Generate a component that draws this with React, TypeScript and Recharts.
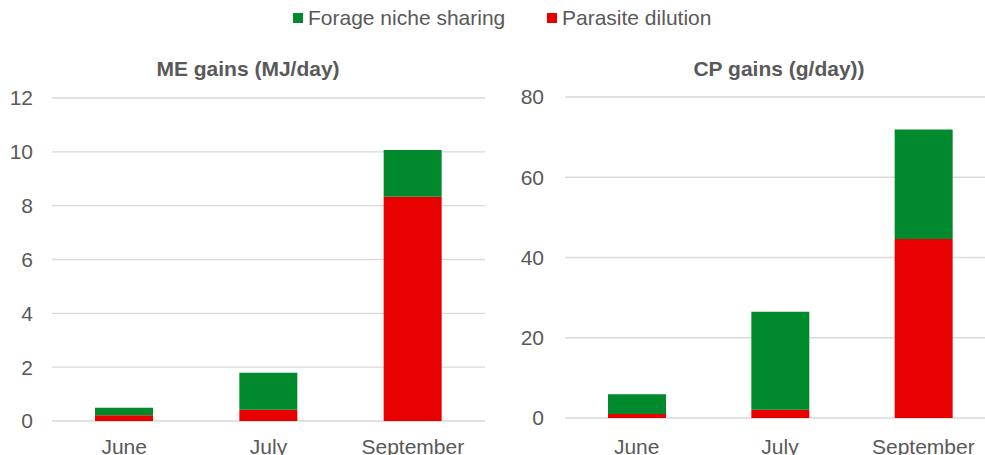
import { Bar, BarChart, CartesianGrid, XAxis, YAxis } from "recharts";

const months = ["June", "July", "September"];

// ME gains (MJ/day)
const meParasite = [0.21, 0.42, 8.33];
const meForage = [0.28, 1.37, 1.74];
const meTicks = [0, 2, 4, 6, 8, 10, 12];

// CP gains (g/day)
const cpParasite = [1.0, 2.05, 44.6];
const cpForage = [4.9, 24.4, 27.3];
const cpTicks = [0, 20, 40, 60, 80];

const GREEN = "#00892D";
const RED = "#E80000";
const TEXT = "#595959";
const FONT = '"Liberation Sans", Arial, sans-serif';

const meData = months.map((m, i) => ({ month: m, parasite: meParasite[i], forage: meForage[i] }));
const cpData = months.map((m, i) => ({ month: m, parasite: cpParasite[i], forage: cpForage[i] }));

function Panel({
  data,
  ticks,
  width,
  top,
  bottom,
  axisWidth,
  yGap,
  xGap,
  right,
}: {
  data: typeof meData;
  ticks: number[];
  width: number;
  top: number;
  bottom: number;
  axisWidth: number;
  yGap: number;
  xGap: number;
  right: number;
}) {
  const max = ticks[ticks.length - 1];
  return (
    <BarChart
      width={width}
      height={455}
      data={data}
      margin={{ top, bottom: 0, left: 0, right }}
      barSize={58}
    >
      <CartesianGrid vertical={false} stroke="#d9d9d9" strokeWidth={1.3} />
      <XAxis
        dataKey="month"
        height={bottom}
        axisLine={false}
        tickLine={false}
        tickSize={0}
        tickMargin={xGap}
        tick={{ fontSize: 21, fill: TEXT, fontFamily: FONT }}
        interval={0}
      />
      <YAxis
        width={axisWidth}
        domain={[0, max]}
        ticks={ticks}
        axisLine={false}
        tickLine={false}
        tickSize={0}
        tickMargin={yGap}
        tick={{ fontSize: 21, fill: TEXT, fontFamily: FONT }}
      />
      <Bar dataKey="parasite" stackId="a" fill={RED} isAnimationActive={false} />
      <Bar dataKey="forage" stackId="a" fill={GREEN} isAnimationActive={false} />
    </BarChart>
  );
}

const titleStyle: React.CSSProperties = {
  position: "absolute",
  top: 57,
  width: 300,
  textAlign: "center",
  fontFamily: FONT,
  fontWeight: "bold",
  fontSize: 21,
  color: TEXT,
  whiteSpace: "nowrap",
};

const legendItem: React.CSSProperties = {
  position: "absolute",
  top: 6,
  fontFamily: FONT,
  fontSize: 21,
  color: TEXT,
  whiteSpace: "nowrap",
  display: "flex",
  alignItems: "center",
};

export default function App() {
  return (
    <div
      style={{
        position: "absolute",
        left: 0,
        top: 0,
        width: 985,
        height: 455,
        overflow: "hidden",
        background: "#fff",
      }}
    >
      <div style={{ ...legendItem, left: 293 }}>
        <span style={{ width: 10, height: 10, background: GREEN, marginRight: 5 }} />
        Forage niche sharing
      </div>
      <div style={{ ...legendItem, left: 547 }}>
        <span style={{ width: 10, height: 10, background: RED, marginRight: 5 }} />
        Parasite dilution
      </div>

      <div style={{ ...titleStyle, left: 248 - 150 }}>ME gains (MJ/day)</div>
      <div style={{ ...titleStyle, left: 779 - 150 }}>CP gains (g/day))</div>

      <div style={{ position: "absolute", left: 0, top: 0 }}>
        <Panel
          data={meData}
          ticks={meTicks}
          width={490}
          top={98}
          bottom={34}
          axisWidth={52}
          yGap={19}
          xGap={18}
          right={5}
        />
      </div>
      <div style={{ position: "absolute", left: 490, top: 0 }}>
        <Panel
          data={cpData}
          ticks={cpTicks}
          width={505}
          top={97}
          bottom={37}
          axisWidth={75}
          yGap={21}
          xGap={21}
          right={0}
        />
      </div>
    </div>
  );
}
